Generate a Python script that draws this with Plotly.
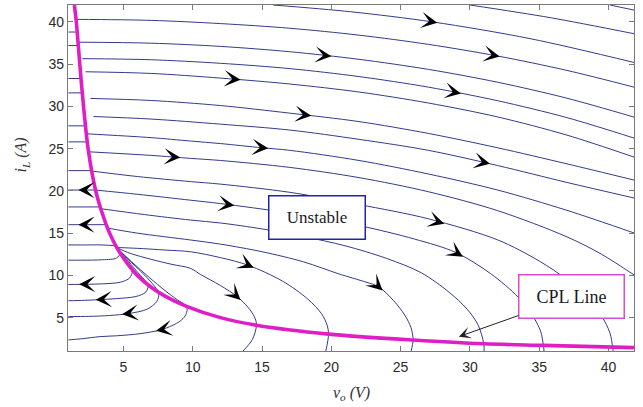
import numpy as np
import plotly.graph_objects as go

# ---------------- data (v_o in V, i_L in A) ----------------
cpl_v = [1.46, 1.6, 1.85, 2.12, 2.45, 3.0, 3.5, 4.0, 4.55, 5.2, 6.0, 7.0, 8.0, 9.6, 12.0, 14.6, 19.8, 25.9, 31.0, 35.3, 41.84]
cpl_i = [42.0, 40.0, 35.0, 30.0, 25.0, 20.0, 17.2, 15.0, 13.2, 11.6, 10.0, 8.6, 7.55, 6.3, 5.0, 4.1, 3.05, 2.35, 1.9, 1.72, 1.45]

tb_v = [40.1, 41.84]; tb_i = [42.0, 41.4]
ta_v = [30.0, 35.8, 41.84]; ta_i = [42.0, 40.5, 38.6]
t0_v = [15.8, 21.4, 27.3, 34.4, 41.84]; t0_i = [42.0, 41.2, 40.0, 38.0, 35.2]
c1_v = [1.55, 7, 12, 17, 22, 27, 32, 37, 41.84]; c1_i = [40.3, 40.18, 39.8, 39.25, 38.43, 37.34, 35.96, 34.26, 32.28]
c2_v = [1.75, 7, 12, 17, 22, 27, 32, 37, 41.84]; c2_i = [37.6, 37.48, 37.1, 36.47, 35.57, 34.38, 32.86, 30.97, 28.73]
c3_v = [2.04, 7, 12, 17, 22, 27, 32, 37, 41.84]; c3_i = [35.65, 35.52, 35.1, 34.47, 33.53, 32.28, 30.67, 28.67, 26.25]
c4_v = [2.26, 7, 12, 17, 22, 27, 32, 37, 41.84]; c4_i = [34.1, 33.9, 33.35, 32.65, 31.7, 30.4, 28.75, 26.6, 24.0]
c5_v = [2.62, 7, 12, 17, 22, 27, 32, 37, 41.84]; c5_i = [30.94, 30.7, 30.1, 29.2, 28.2, 26.8, 25.1, 23.2, 21.28]
c6_v = [2.84, 7, 12, 17, 22, 27, 32, 37, 41.84]; c6_i = [28.8, 28.5, 27.9, 27.2, 26.1, 24.8, 23.0, 21.0, 19.16]
c7_v = [2.3, 7, 9.83, 12, 15, 17, 22, 27, 32, 37, 41.84]; c7_i = [26.76, 26.3, 25.9, 25.6, 25.1, 24.8, 23.6, 22.0, 20.1, 17.7, 15.02]
c8_v = [2.44, 7, 9.83, 12, 17, 22, 27, 32, 37, 39.5, 41.84]; c8_i = [24.63, 24.2, 23.85, 23.6, 22.78, 21.57, 19.9, 17.66, 14.56, 12.5, 10.05]
c9_v = [2.69, 6, 9.83, 12, 17, 22, 27, 32, 35, 37, 38.5, 39.5, 40.1, 40.3, 40.33]
c9_i = [22.35, 21.7, 21.1, 20.8, 19.83, 18.38, 16.7, 14.2, 11.7, 9.5, 7.3, 5.2, 3.2, 1.5, 1.0]
c10_v = [2.97, 6, 9.83, 12, 17, 22, 26, 29, 31.5, 33.5, 34.5, 35.1, 35.3, 35.35]
c10_i = [20.1, 19.6, 18.9, 18.5, 17.37, 15.9, 14.3, 12.7, 10.2, 7.4, 5.3, 3.4, 1.74, 1.0]
c11_v = [3.34, 6.5, 9.83, 12, 15, 18, 21, 24, 26.5, 28.5, 29.8, 30.6, 31.0, 31.02]
c11_i = [17.9, 17.2, 16.55, 16.2, 15.5, 14.6, 13.5, 12.0, 10.3, 8.0, 6.0, 4.1, 1.89, 1.0]
c12_v = [3.85, 6, 9.83, 12, 15, 18, 20.5, 22.5, 23.4, 24.5, 25.3, 25.75, 25.9, 25.75]
c12_i = [15.6, 15.0, 14.19, 13.7, 12.8, 11.6, 10.2, 9.2, 8.67, 7.0, 5.3, 3.8, 2.36, 1.0]
c13_v = [4.5, 6, 8, 9.83, 12, 14, 16.5, 18.3, 19.3, 19.7, 19.8, 19.6]
c13_i = [13.3, 13.2, 13.0, 12.8, 12.1, 11.2, 9.3, 7.2, 5.45, 4.1, 3.05, 1.0]
c14_v = [4.5, 5.5, 7, 8.5, 9.83, 10.57, 12, 13.2, 14.0, 14.45, 14.6, 14.3, 13.6]
c14_i = [13.3, 12.6, 11.9, 11.3, 10.84, 10.1, 8.8, 7.5, 6.2, 5.1, 4.14, 2.4, 1.0]

l1_v = [4.5, 4.9, 5.35, 5.63, 5.45, 4.8, 3.5, 2.3, 1.03]
l1_i = [13.3, 12.3, 11.3, 10.5, 9.7, 9.2, 9.0, 8.95, 8.92]
l2_v = [4.5, 5.2, 5.9, 6.5, 6.78, 6.6, 5.9, 4.5, 3.54, 2.2, 1.03]
l2_i = [13.3, 12.0, 10.6, 9.5, 8.8, 8.0, 7.5, 7.25, 7.15, 7.05, 7.0]
l3_v = [4.5, 5.4, 6.3, 7.1, 7.55, 7.4, 6.7, 5.45, 4.0, 2.5, 1.03]
l3_i = [13.3, 11.8, 10.4, 9.0, 7.9, 6.9, 6.0, 5.5, 5.25, 5.15, 5.12]
l4_v = [4.5, 5.6, 6.9, 8.0, 8.9, 9.45, 9.6, 9.45, 9.1, 8.5, 7.7, 6.2, 4.5, 3.3, 2.0, 1.03]
l4_i = [13.3, 11.6, 9.7, 8.2, 7.1, 6.5, 6.0, 5.2, 4.6, 4.05, 3.55, 3.1, 2.85, 2.75, 2.5, 2.36]
j1_v = [4.45, 3.5, 2.0, 1.03]; j1_i = [13.5, 13.6, 13.6, 13.6]
j2_v = [4.5, 4.75, 4.5, 3.5, 2.0, 1.03]; j2_i = [13.2, 12.6, 12.05, 11.85, 11.8, 11.8]

stub_i = [38.8, 37.2, 33.3, 31.6, 27.7, 25.8, 22.4, 20.1, 18.1, 16.0]

# arrows: (curve, v at arrow tip, branch 0 = outgoing / 1 = returning)
arrow_curve = ["t0", "c2", "c1", "c4", "c3", "c5", "c8", "c7", "c6", "c10", "c9", "c10",
               "c13", "c12", "c14", "s20.1", "s16.0", "l1", "l2", "l3", "l4"]
arrow_v = [27.65, 20.0, 32.15, 13.45, 29.35, 18.55, 9.1, 15.45, 31.45, 13.0, 28.15, 29.5,
           14.4, 23.7, 13.45, 1.75, 1.75, 1.8, 3.0, 4.9, 7.35]
arrow_branch = [0, 0, 0, 0, 0, 0, 0, 0, 0, 0, 0, 0, 0, 0, 0, 1, 1, 1, 1, 1, 1]

# ---------------- figure ----------------
W, H = 643, 407
MARG = dict(l=68, r=9, t=5, b=56)
X_RANGE = [1.0, 41.84]
Y_RANGE = [1.05, 42.0]
PX_X = (W - MARG["l"] - MARG["r"]) / (X_RANGE[1] - X_RANGE[0])
PX_Y = (H - MARG["t"] - MARG["b"]) / (Y_RANGE[1] - Y_RANGE[0])

BLUE = "#333b8a"
MAG = "#e01ec6"

curves = {
    "tb": (tb_v, tb_i), "ta": (ta_v, ta_i), "t0": (t0_v, t0_i),
    "c1": (c1_v, c1_i), "c2": (c2_v, c2_i), "c3": (c3_v, c3_i), "c4": (c4_v, c4_i),
    "c5": (c5_v, c5_i), "c6": (c6_v, c6_i), "c7": (c7_v, c7_i), "c8": (c8_v, c8_i),
    "c9": (c9_v, c9_i), "c10": (c10_v, c10_i), "c11": (c11_v, c11_i), "c12": (c12_v, c12_i),
    "c13": (c13_v, c13_i), "c14": (c14_v, c14_i),
    "l1": (l1_v, l1_i), "l2": (l2_v, l2_i), "l3": (l3_v, l3_i), "l4": (l4_v, l4_i),
    "j1": (j1_v, j1_i), "j2": (j2_v, j2_i),
}
cpl_rev_i = cpl_i[::-1]
cpl_rev_v = cpl_v[::-1]
for s in stub_i:
    vm = float(np.interp(s, cpl_rev_i, cpl_rev_v))
    curves["s%.1f" % s] = ([vm, 1.03], [s, s])

fig = go.Figure()
for name, (vv, ii) in curves.items():
    fig.add_trace(go.Scatter(x=vv, y=ii, mode="lines",
                             line=dict(color=BLUE, width=1, shape="spline", smoothing=0.9),
                             hoverinfo="skip"))
fig.add_trace(go.Scatter(x=cpl_v, y=cpl_i, mode="lines",
                         line=dict(color=MAG, width=3.6, shape="spline", smoothing=0.8),
                         hoverinfo="skip"))


def tip_and_dir(vv, ii, x_tip, branch):
    vv = np.asarray(vv, float); ii = np.asarray(ii, float)
    k = int(np.argmax(vv))
    if branch == 0:
        xs, ys, sgn = vv[:k + 1], ii[:k + 1], 1.0
    else:
        xs, ys, sgn = vv[k:][::-1], ii[k:][::-1], -1.0
    y = float(np.interp(x_tip, xs, ys))
    d = 0.3
    y0 = float(np.interp(x_tip - sgn * d, xs, ys))
    dx = sgn * d * PX_X
    dy = (y - y0) * PX_Y
    n = np.hypot(dx, dy)
    return y, dx / n, dy / n


annotations = []
L = 9
for cname, xv, br in zip(arrow_curve, arrow_v, arrow_branch):
    vv, ii = curves[cname]
    y, ux, uy = tip_and_dir(vv, ii, xv, br)
    annotations.append(dict(x=xv, y=y, xref="x", yref="y", text="", showarrow=True,
                            ax=-L * ux, ay=L * uy, arrowhead=3, arrowsize=2.7,
                            arrowwidth=1, arrowcolor="black", standoff=0))

annotations.append(dict(x=19.0, y=16.9, xref="x", yref="y", text="Unstable", showarrow=False,
                        font=dict(family="Liberation Serif", size=17, color="#1a1a1a"),
                        bgcolor="white", bordercolor="#2323a6", borderwidth=1.5,
                        borderpad=1, width=93, height=40))
annotations.append(dict(x=29.2, y=2.75, xref="x", yref="y", ax=37.3, ay=7.45,
                        axref="x", ayref="y", text="CPL Line", showarrow=True,
                        arrowhead=3, arrowsize=2.0, arrowwidth=1, arrowcolor="#222",
                        font=dict(family="Liberation Serif", size=18, color="#1a1a1a"),
                        bgcolor="white", bordercolor="#d24fcf", borderwidth=1.5,
                        borderpad=1, width=102, height=40))
annotations.append(dict(x=0.5, y=0, xref="paper", yref="paper", yshift=-42, yanchor="middle",
                        text="<i>v<sub>o</sub> (V)</i>", showarrow=False,
                        font=dict(family="Liberation Serif", size=16, color="#333")))
annotations.append(dict(x=0, y=0.565, xref="paper", yref="paper", xshift=-46, xanchor="center",
                        text="<i>i<sub>L</sub> (A)</i>", showarrow=False, textangle=-90,
                        font=dict(family="Liberation Serif", size=16, color="#333")))

axis_common = dict(showgrid=False, zeroline=False, showline=True, linecolor="#7a7a7a",
                   linewidth=1.2, mirror="ticks", ticks="inside", ticklen=5,
                   tickcolor="#7a7a7a", tickfont=dict(family="Liberation Sans", size=14,
                                                      color="#2a2a2a"))
fig.update_layout(
    width=W, height=H, margin=MARG, paper_bgcolor="white", plot_bgcolor="white",
    showlegend=False, annotations=annotations,
    xaxis=dict(range=X_RANGE, tickvals=[5, 10, 15, 20, 25, 30, 35, 40],
               ticklabelstandoff=3, **axis_common),
    yaxis=dict(range=Y_RANGE, tickvals=[5, 10, 15, 20, 25, 30, 35, 40], **axis_common),
)
fig.write_html("out.html")
